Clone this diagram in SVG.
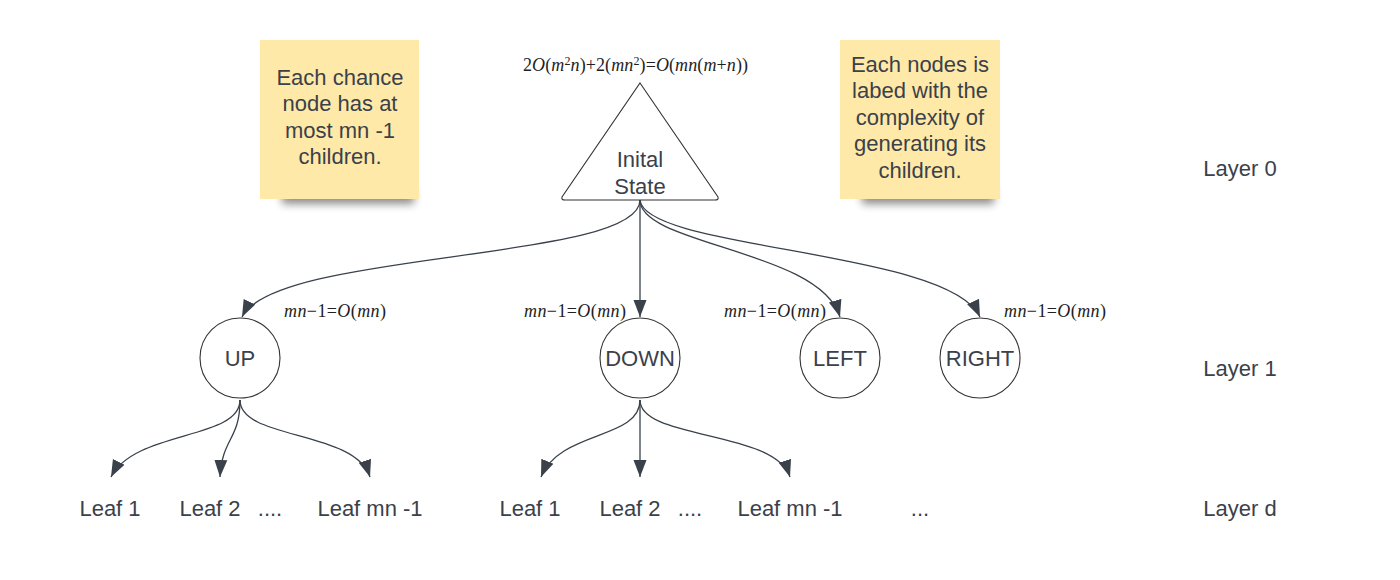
<svg xmlns="http://www.w3.org/2000/svg" width="1400" height="580" viewBox="0 0 1400 580">
<style>
.t{font-family:"Liberation Sans",Arial,sans-serif;font-size:22px;fill:#3a414a;text-anchor:middle}
.m{font-family:"Liberation Serif","Times New Roman",serif;font-size:18px;fill:#1e1e24}
.i{font-style:italic}
.s{font-size:12px}
.c{fill:none;stroke:#3a414a;stroke-width:1.3}
.n{fill:#fff;stroke:#333;stroke-width:1.1}
.note{fill:#ffe9a8}
</style>
<defs>
<marker id="ah" markerUnits="userSpaceOnUse" markerWidth="18" markerHeight="16" viewBox="0 0 18 16" refX="17" refY="8" orient="auto">
<path d="M0,1.5 L17,8 L0,14.5 Z" fill="#3a414a"/>
</marker>
<filter id="sh" x="-20%" y="-100%" width="140%" height="300%">
<feGaussianBlur stdDeviation="4"/>
</filter>
</defs>
<rect width="1400" height="580" fill="#fff"/>

<g id="note1">
<rect x="282" y="188" width="132" height="16" fill="#000" opacity="0.45" filter="url(#sh)"/>
<rect class="note" x="260" y="40" width="159" height="159"/>
<text class="t" x="340" y="84.5">Each chance</text>
<text class="t" x="340" y="111">node has at</text>
<text class="t" x="340" y="137.5">most mn -1</text>
<text class="t" x="340" y="164">children.</text>
</g>

<g id="note2">
<rect x="862" y="188" width="132" height="16" fill="#000" opacity="0.45" filter="url(#sh)"/>
<rect class="note" x="840" y="40" width="160" height="159"/>
<text class="t" x="920" y="71.5">Each nodes is</text>
<text class="t" x="920" y="98">labed with the</text>
<text class="t" x="920" y="124.5">complexity of</text>
<text class="t" x="920" y="151">generating its</text>
<text class="t" x="920" y="177.5">children.</text>
</g>

<g id="connectors">
<path class="c" d="M640,200 C640,262 275,250 242,317" marker-end="url(#ah)"/>
<path class="c" d="M640,200 L640,317" marker-end="url(#ah)"/>
<path class="c" d="M640,200 C640,245 820,250 840,317" marker-end="url(#ah)"/>
<path class="c" d="M640,200 C645,250 950,250 980,317" marker-end="url(#ah)"/>
<path class="c" d="M240,400 C240,440 135,430 111,477" marker-end="url(#ah)"/>
<path class="c" d="M240,400 C240,440 222,438 220,477" marker-end="url(#ah)"/>
<path class="c" d="M240,400 C240,440 355,430 370,477" marker-end="url(#ah)"/>
<path class="c" d="M640,400 C640,440 560,430 541,477" marker-end="url(#ah)"/>
<path class="c" d="M640,400 L640,477" marker-end="url(#ah)"/>
<path class="c" d="M640,400 C640,440 775,430 790,477" marker-end="url(#ah)"/>
</g>

<g id="init">
<path class="n" d="M640,83 L718,197 Q719,200 715,200 L565,200 Q561,200 562,197 Z"/>
<text class="t" x="640" y="167">Inital</text>
<text class="t" x="640" y="194">State</text>
<text class="m" x="523" y="71" textLength="225" lengthAdjust="spacing">2<tspan class="i">O</tspan>(<tspan class="i">m</tspan><tspan class="s" dy="-6">2</tspan><tspan class="i" dy="6">n</tspan>)+2(<tspan class="i">mn</tspan><tspan class="s" dy="-6">2</tspan><tspan dy="6">)=</tspan><tspan class="i">O</tspan>(<tspan class="i">mn</tspan>(<tspan class="i">m</tspan>+<tspan class="i">n</tspan>))</text>
</g>

<g id="up">
<circle class="n" cx="240" cy="358" r="40"/>
<text class="t" x="240" y="365.5">UP</text>
<text class="m" x="284" y="316.5" textLength="102" lengthAdjust="spacing"><tspan class="i">mn</tspan>−1=<tspan class="i">O</tspan>(<tspan class="i">mn</tspan>)</text>
</g>
<g id="down">
<circle class="n" cx="640" cy="358" r="40"/>
<text class="t" x="640" y="365.5">DOWN</text>
<text class="m" x="524" y="316.5" textLength="102" lengthAdjust="spacing"><tspan class="i">mn</tspan>−1=<tspan class="i">O</tspan>(<tspan class="i">mn</tspan>)</text>
</g>
<g id="left">
<circle class="n" cx="840" cy="358" r="40"/>
<text class="t" x="840" y="365.5">LEFT</text>
<text class="m" x="724" y="316.5" textLength="102" lengthAdjust="spacing"><tspan class="i">mn</tspan>−1=<tspan class="i">O</tspan>(<tspan class="i">mn</tspan>)</text>
</g>
<g id="right">
<circle class="n" cx="980" cy="358" r="40"/>
<text class="t" x="980" y="365.5">RIGHT</text>
<text class="m" x="1004" y="316.5" textLength="102" lengthAdjust="spacing"><tspan class="i">mn</tspan>−1=<tspan class="i">O</tspan>(<tspan class="i">mn</tspan>)</text>
</g>

<g id="leaves">
<text class="t" x="110" y="515.5">Leaf 1</text>
<text class="t" x="210" y="515.5">Leaf 2</text>
<text class="t" x="270" y="515.5">....</text>
<text class="t" x="370" y="515.5">Leaf mn -1</text>
<text class="t" x="530" y="515.5">Leaf 1</text>
<text class="t" x="630" y="515.5">Leaf 2</text>
<text class="t" x="690" y="515.5">....</text>
<text class="t" x="790" y="515.5">Leaf mn -1</text>
<text class="t" x="920" y="515.5">...</text>
</g>

<g id="layers">
<text class="t" x="1240" y="175.5">Layer 0</text>
<text class="t" x="1240" y="375.5">Layer 1</text>
<text class="t" x="1240" y="515.5">Layer d</text>
</g>
</svg>
